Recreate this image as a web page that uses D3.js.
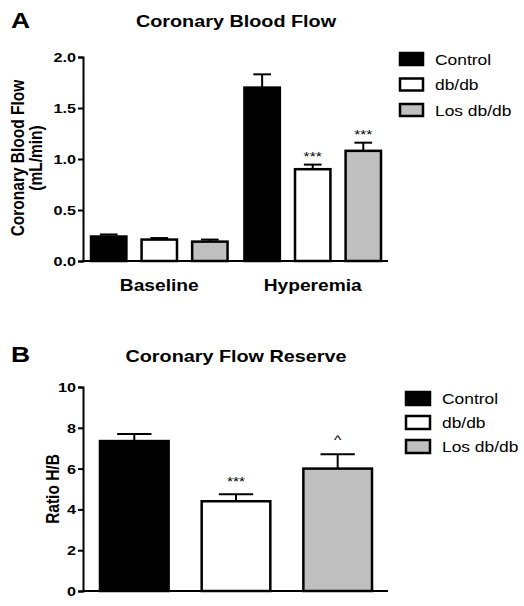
<!DOCTYPE html>
<html><head><meta charset="utf-8">
<script src="https://cdn.jsdelivr.net/npm/d3@7"></script>
<style>body{margin:0;background:#fff}svg{display:block}</style>
</head><body>
<script>
// ---- data ----
const groups = ["Baseline", "Hyperemia"];
const series = ["Control", "db/db", "Los db/db"];
const seriesColors = ["#000000", "#ffffff", "#c0c0c0"];
const flowMean = [[0.24, 0.21, 0.19], [1.70, 0.90, 1.08]];
const flowSem  = [[0.02, 0.015, 0.02], [0.13, 0.045, 0.08]];
const flowSig  = [["", "", ""], ["", "***", "***"]];
const flowTicks = [0, 0.5, 1.0, 1.5, 2.0];
const reserveMean = [7.35, 4.4, 6.0];
const reserveSem  = [0.35, 0.34, 0.7];
const reserveSig  = ["", "***", "^"];
const reserveTicks = [0, 2, 4, 6, 8, 10];

const W = 524, H = 606, SX = 1.2;
const FONT = "'Liberation Sans', Arial, Helvetica, sans-serif";
const svg = d3.select("body").append("svg").attr("width", W).attr("height", H);

function txt(g, x, y, s, size, weight, anchor, rot) {
  const t = g.append("text")
    .attr("transform", rot ? `translate(${x},${y}) rotate(-90) scale(1,${SX})` : `translate(${x},${y}) scale(${SX},1)`)
    .attr("font-family", FONT).attr("font-size", size).attr("font-weight", weight || "normal")
    .attr("text-anchor", anchor || "start").attr("fill", "#000").text(s);
  return t;
}

function yAxis(g, y, ticks, fmt, x0) {
  const ax = g.append("g").attr("transform", `translate(${x0},0)`)
    .call(d3.axisLeft(y).tickValues(ticks).tickFormat(fmt).tickSize(5).tickPadding(2));
  ax.select(".domain").attr("stroke", "#000").attr("stroke-width", 2);
  ax.selectAll(".tick line").attr("stroke", "#000").attr("stroke-width", 2);
  ax.selectAll(".tick text").remove();
  ticks.forEach(v => txt(g, x0 - 7, y(v) + 5, fmt(v), 13.5, "bold", "end"));
}

function bar(g, x, w, yScale, v, sem, color, sig, sigOff, sigSize) {
  const y0 = yScale(0);
  // error bar (upper only)
  const cx = x + w / 2, yt = yScale(v + sem);
  g.append("line").attr("x1", cx).attr("x2", cx).attr("y1", yScale(v)).attr("y2", yt)
    .attr("stroke", "#000").attr("stroke-width", 2);
  g.append("line").attr("x1", cx - w / 4).attr("x2", cx + w / 4).attr("y1", yt).attr("y2", yt)
    .attr("stroke", "#000").attr("stroke-width", 2);
  g.append("rect").attr("x", x).attr("y", yScale(v)).attr("width", w).attr("height", y0 - yScale(v))
    .attr("fill", color).attr("stroke", "#000").attr("stroke-width", 2.5);
  if (sig) txt(g, cx, yt - sigOff, sig, sigSize, "normal", "middle");
}

function legend(g, x, y, step, sw, sh) {
  series.forEach((s, i) => {
    g.append("rect").attr("x", x).attr("y", y + i * step).attr("width", sw).attr("height", sh)
      .attr("fill", seriesColors[i]).attr("stroke", "#000").attr("stroke-width", 2.5);
    txt(g, x + sw + 12, y + i * step + sh / 2 + 5.5, s, 14.5, "normal", "start");
  });
}

// ---- Panel A ----
{
  const g = svg.append("g");
  const y = d3.scaleLinear().domain([0, 2]).range([261, 57]);
  const x0 = d3.scaleBand().domain(groups).range([91, 381]).paddingInner(0.11);
  const x1 = d3.scaleBand().domain(series).range([0, x0.bandwidth()]).paddingInner(0.3);
  groups.forEach((gr, gi) => series.forEach((s, si) => {
    bar(g, x0(gr) + x1(s), x1.bandwidth(), y, flowMean[gi][si], flowSem[gi][si], seriesColors[si], flowSig[gi][si], 4, 13);
  }));
  g.append("line").attr("x1", 83).attr("x2", 388).attr("y1", y(0)).attr("y2", y(0)).attr("stroke", "#000").attr("stroke-width", 2);
  yAxis(g, y, flowTicks, d3.format(".1f"), 83);
  groups.forEach(gr => txt(g, x0(gr) + x0.bandwidth() / 2, 291, gr, 16, "bold", "middle"));
  txt(g, 11, 28, "A", 22, "bold", "start");
  txt(g, 236, 27, "Coronary Blood Flow", 16.5, "bold", "middle");
  txt(g, 24, 158, "Coronary Blood Flow", 15.5, "bold", "middle", true);
  txt(g, 42, 158, "(mL/min)", 15.5, "bold", "middle", true);
  legend(g, 400, 53, 25.5, 23, 12);
}

// ---- Panel B ----
{
  const g = svg.append("g");
  const y = d3.scaleLinear().domain([0, 10]).range([591, 387]);
  const x = d3.scaleBand().domain(series).range([100, 372]).paddingInner(0.325);
  series.forEach((s, i) => {
    bar(g, x(s), x.bandwidth(), y, reserveMean[i], reserveSem[i], seriesColors[i], reserveSig[i], i === 2 ? 10 : 8, 13);
  });
  g.append("line").attr("x1", 83).attr("x2", 388).attr("y1", y(0)).attr("y2", y(0)).attr("stroke", "#000").attr("stroke-width", 2);
  yAxis(g, y, reserveTicks, d3.format("d"), 83);
  txt(g, 11, 362, "B", 22, "bold", "start");
  txt(g, 236, 362, "Coronary Flow Reserve", 16.5, "bold", "middle");
  txt(g, 59, 489, "Ratio H/B", 15.5, "bold", "middle", true);
  legend(g, 406, 392, 24, 24, 13);
}
</script>
</body></html>
